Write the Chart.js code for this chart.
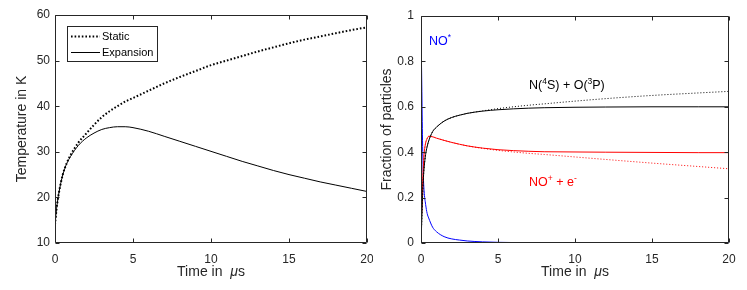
<!DOCTYPE html>
<html>
<head>
<meta charset="utf-8">
<script src="https://cdn.jsdelivr.net/npm/chart.js@4.4.1/dist/chart.umd.min.js"></script>
<style>
  html, body { margin: 0; padding: 0; background: #fff; }
  #wrap { position: relative; width: 747px; height: 290px; overflow: hidden; }
  #c1 { position: absolute; left: 0; top: 0; }
  #c2 { position: absolute; left: 373px; top: 0; }
</style>
</head>
<body>
<div id="wrap">
  <canvas id="c1" width="373" height="290"></canvas>
  <canvas id="c2" width="374" height="290"></canvas>
</div>
<script>
// ---------- Left chart data (Temperature in K vs time in µs) ----------
const tempTime = [0, 0.1, 0.25, 0.5, 0.75, 1, 1.5, 2, 2.5, 3, 3.5, 4, 4.5, 5, 6, 7, 8, 9, 10, 11, 12, 13, 14, 15, 16, 17, 18, 19, 20];
const staticTemp = [14, 17.5, 21, 25, 27.5, 29.3, 32, 34, 35.9, 37.6, 38.9, 40, 41, 41.8, 43.4, 45, 46.4, 47.7, 49, 50, 51, 52, 52.9, 53.8, 54.6, 55.3, 56, 56.7, 57.3];
const expansionTemp = [14, 17.5, 21, 25, 27.4, 29, 31.4, 33, 34.1, 34.9, 35.3, 35.5, 35.5, 35.3, 34.5, 33.4, 32.3, 31.2, 30.1, 29, 27.9, 26.9, 25.9, 25, 24.2, 23.4, 22.7, 22, 21.3];
const tempTicksX = [0, 5, 10, 15, 20];
const tempTicksY = [10, 20, 30, 40, 50, 60];

// ---------- Right chart data (Fraction of particles) ----------
const fracTime = [0, 0.05, 0.1, 0.15, 0.2, 0.3, 0.4, 0.5, 0.75, 1, 1.5, 2, 2.5, 3, 4, 5, 6, 7, 8, 10, 12, 15, 18, 20];
const noStar = [0.96, 0.7, 0.45, 0.3, 0.23, 0.17, 0.13, 0.11, 0.07, 0.05, 0.028, 0.018, 0.013, 0.009, 0.005, 0.003, 0.002, 0.001, 0.0005, 0, 0, 0, 0, 0];
const ionExp = [0.05, 0.15, 0.25, 0.33, 0.39, 0.44, 0.46, 0.47, 0.468, 0.462, 0.452, 0.443, 0.435, 0.428, 0.418, 0.411, 0.407, 0.404, 0.402, 0.401, 0.4, 0.399, 0.398, 0.398];
const ionStatic = [0.05, 0.15, 0.25, 0.33, 0.39, 0.44, 0.46, 0.47, 0.468, 0.462, 0.452, 0.443, 0.435, 0.428, 0.417, 0.408, 0.401, 0.395, 0.39, 0.379, 0.368, 0.352, 0.337, 0.327];
const neutralExp = [0, 0.1, 0.2, 0.28, 0.33, 0.39, 0.425, 0.45, 0.49, 0.51, 0.537, 0.553, 0.563, 0.571, 0.581, 0.587, 0.591, 0.594, 0.596, 0.598, 0.599, 0.6, 0.6, 0.6];
const neutralStatic = [0, 0.1, 0.2, 0.28, 0.33, 0.39, 0.425, 0.45, 0.49, 0.51, 0.537, 0.553, 0.563, 0.571, 0.582, 0.592, 0.6, 0.607, 0.613, 0.625, 0.636, 0.65, 0.661, 0.668];
const fracTicksX = [0, 5, 10, 15, 20];
const fracTicksY = [0, 0.2, 0.4, 0.6, 0.8, 1];

const FONT = "'Liberation Sans', Arial, Helvetica, sans-serif";
const AXC = '#262626';

function pts(xs, ys) { return xs.map((x, i) => ({ x: x, y: ys[i] })); }

// Box + inward ticks on all four sides (MATLAB style)
const boxPlugin = {
  id: 'boxTicks',
  afterDatasetsDraw(chart) {
    const { ctx, chartArea: a, scales } = chart;
    const xs = scales.x, ys = scales.y;
    ctx.save();
    ctx.strokeStyle = AXC;
    ctx.lineWidth = 1;
    ctx.beginPath();
    const L = Math.round(a.left) + 0.5, R = Math.round(a.right) - 0.5;
    const T = Math.round(a.top) + 0.5, B = Math.round(a.bottom) - 0.5;
    ctx.rect(L, T, R - L, B - T);
    const tl = 4;
    xs.ticks.forEach(t => {
      const px = Math.round(xs.getPixelForValue(t.value)) + 0.5;
      ctx.moveTo(px, B); ctx.lineTo(px, B - tl);
      ctx.moveTo(px, T); ctx.lineTo(px, T + tl);
    });
    ys.ticks.forEach(t => {
      const py = Math.round(ys.getPixelForValue(t.value)) + 0.5;
      ctx.moveTo(L, py); ctx.lineTo(L + tl, py);
      ctx.moveTo(R, py); ctx.lineTo(R - tl, py);
    });
    ctx.stroke();

    // x-axis title with italic mu (TeX style)
    const cx = (a.left + a.right) / 2;
    const parts = [['Time in  ', 'normal'], ['\u03BC', 'italic'], ['s', 'normal']];
    let w = 0;
    parts.forEach(p => { ctx.font = p[1] + ' 14px ' + FONT; w += ctx.measureText(p[0]).width; });
    let x = cx - w / 2;
    ctx.fillStyle = AXC;
    ctx.textBaseline = 'alphabetic';
    ctx.textAlign = 'left';
    parts.forEach(p => { ctx.font = p[1] + ' 14px ' + FONT; ctx.fillText(p[0], x, 276); x += ctx.measureText(p[0]).width; });
    ctx.restore();
  }
};

function fixTicks(values) {
  return function (scale) { scale.ticks = values.map(v => ({ value: v })); };
}

function baseScales(xVals, yVals, yMin, yMax, yTitle, yAxisW, yTitlePad, yTickPad, yFmt) {
  return {
    x: {
      type: 'linear', min: 0, max: 20,
      afterBuildTicks: fixTicks(xVals),
      afterFit(s) { s.height = 47; s.paddingLeft = 0; s.paddingRight = 0; },
      grid: { display: false, drawTicks: false },
      border: { display: false },
      ticks: { color: AXC, font: { family: FONT, size: 12 }, padding: 9, maxRotation: 0, autoSkip: false },
      title: { display: false }
    },
    y: {
      type: 'linear', min: yMin, max: yMax,
      afterBuildTicks: fixTicks(yVals),
      afterFit(s) { s.width = yAxisW; s.paddingTop = 0; s.paddingBottom = 0; },
      grid: { display: false, drawTicks: false },
      border: { display: false },
      ticks: { color: AXC, font: { family: FONT, size: 12 }, padding: yTickPad, autoSkip: false, callback: yFmt },
      title: { display: true, text: yTitle, color: AXC, font: { family: FONT, size: 14 }, padding: { top: yTitlePad, bottom: 0 } }
    }
  };
}

// Left legend (boxed, MATLAB style)
const legendPlugin = {
  id: 'boxLegend',
  afterDraw(chart) {
    const { ctx } = chart;
    ctx.save();
    ctx.strokeStyle = AXC; ctx.lineWidth = 1;
    ctx.strokeRect(67.5, 26.5, 90, 35);
    const items = chart.data.datasets;
    const rows = [36.5, 52.5];
    items.forEach((ds, i) => {
      ctx.beginPath();
      ctx.strokeStyle = ds.borderColor;
      ctx.lineWidth = ds.borderWidth;
      ctx.setLineDash(ds.borderDash || []);
      ctx.moveTo(71, rows[i]); ctx.lineTo(100, rows[i]);
      ctx.stroke();
      ctx.setLineDash([]);
      ctx.fillStyle = '#000';
      ctx.font = '11px ' + FONT;
      ctx.textBaseline = 'middle';
      ctx.fillText(ds.label, 102, rows[i] + 0.5);
    });
    ctx.restore();
  }
};

new Chart(document.getElementById('c1'), {
  type: 'line',
  data: {
    datasets: [
      { label: 'Static', data: pts(tempTime, staticTemp), borderColor: '#000', borderWidth: 2, borderDash: [1.6, 2], pointRadius: 0, cubicInterpolationMode: 'monotone', fill: false },
      { label: 'Expansion', data: pts(tempTime, expansionTemp), borderColor: '#000', borderWidth: 1, pointRadius: 0, cubicInterpolationMode: 'monotone', fill: false }
    ]
  },
  options: {
    responsive: false, animation: false,
    layout: { padding: { left: 0, right: 6, top: 15, bottom: 0 } },
    plugins: { legend: { display: false }, tooltip: { enabled: false } },
    scales: baseScales(tempTicksX, tempTicksY, 10, 60, 'Temperature in K', 55, 14, 5, v => v)
  },
  plugins: [boxPlugin, legendPlugin]
});

// Right chart annotations with superscripts
function drawRich(ctx, parts, x, y, color) {
  ctx.fillStyle = color;
  ctx.textBaseline = 'alphabetic';
  let cx = x;
  parts.forEach(p => {
    const sup = p[1];
    ctx.font = (sup ? '8.5px ' : '12.5px ') + FONT;
    ctx.fillText(p[0], cx, sup ? y - 5 : y);
    cx += ctx.measureText(p[0]).width;
  });
}
const labelPlugin = {
  id: 'labels',
  afterDraw(chart) {
    const { ctx } = chart;
    ctx.save();
    drawRich(ctx, [['NO', false], ['*', true]], 56, 45, '#0000ff');
    drawRich(ctx, [['N(', false], ['4', true], ['S) + O(', false], ['3', true], ['P)', false]], 156, 89, '#000');
    drawRich(ctx, [['NO', false], ['+', true], [' + e', false], ['-', true]], 156, 186, '#ff0000');
    ctx.restore();
  }
};

new Chart(document.getElementById('c2'), {
  type: 'line',
  data: {
    datasets: [
      { label: 'N static', data: pts(fracTime, neutralStatic), borderColor: '#000', borderWidth: 1, borderDash: [1, 2], pointRadius: 0, cubicInterpolationMode: 'monotone', fill: false },
      { label: 'Ion static', data: pts(fracTime, ionStatic), borderColor: '#ff0000', borderWidth: 1, borderDash: [1, 2], pointRadius: 0, cubicInterpolationMode: 'monotone', fill: false },
      { label: 'N expansion', data: pts(fracTime, neutralExp), borderColor: '#000', borderWidth: 1, pointRadius: 0, cubicInterpolationMode: 'monotone', fill: false },
      { label: 'Ion expansion', data: pts(fracTime, ionExp), borderColor: '#ff0000', borderWidth: 1, pointRadius: 0, cubicInterpolationMode: 'monotone', fill: false },
      { label: 'NO*', data: pts(fracTime, noStar), borderColor: '#0000ff', borderWidth: 1, pointRadius: 0, cubicInterpolationMode: 'monotone', fill: false }
    ]
  },
  options: {
    responsive: false, animation: false,
    layout: { padding: { left: 0, right: 18, top: 16, bottom: 0 } },
    plugins: { legend: { display: false }, tooltip: { enabled: false } },
    scales: baseScales(fracTicksX, fracTicksY, 0, 1, 'Fraction of particles', 48, 6, 7, v => (v === 0 || v === 1) ? String(v) : v.toFixed(1))
  },
  plugins: [boxPlugin, labelPlugin]
});
</script>
</body>
</html>
